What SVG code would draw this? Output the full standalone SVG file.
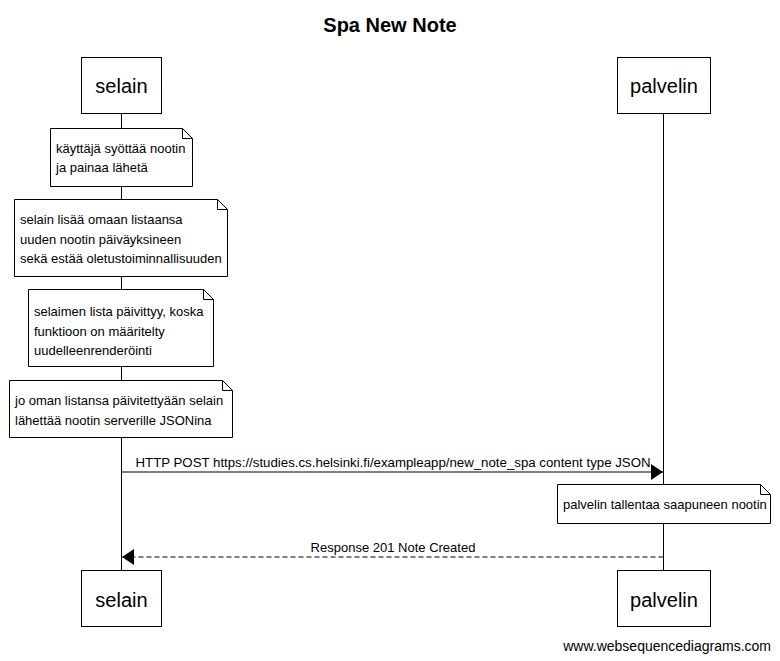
<svg xmlns="http://www.w3.org/2000/svg" width="780" height="661" viewBox="0 0 780 661">
<style>
text{font-family:"Liberation Sans",Arial,sans-serif;fill:#000}
.title{font-size:20px;font-weight:bold;text-anchor:middle}
.part{font-size:20px;text-anchor:middle}
.note{font-size:13px}
.msg{font-size:13px;text-anchor:middle}
.foot{font-size:14px;text-anchor:end}
.box{fill:#fff;stroke:#000;stroke-width:1}
.life{stroke:#000;stroke-width:1;fill:none}
.ln{stroke:#000;stroke-width:1;fill:none}
.dash{stroke-dasharray:5,3}
</style>
<defs>
<marker id="ah" markerWidth="12" markerHeight="16" refX="12" refY="8" orient="auto" markerUnits="userSpaceOnUse">
<path d="M0,0 L12,8 L0,16 Z" fill="#000"/>
</marker>
</defs>
<rect width="780" height="661" fill="#fff"/>
<text class="title" x="390" y="32">Spa New Note</text>
<g id="lifelines">
<line class="life" x1="121.5" y1="114" x2="121.5" y2="570"/>
<line class="life" x1="663.5" y1="114" x2="663.5" y2="570"/>
</g>
<g id="selain">
<rect class="box" x="81.5" y="57.5" width="80" height="56"/>
<text class="part" x="121.5" y="93">selain</text>
<rect class="box" x="81.5" y="570.5" width="80" height="56"/>
<text class="part" x="121.5" y="607">selain</text>
</g>
<g id="palvelin">
<rect class="box" x="617.5" y="57.5" width="93" height="56"/>
<text class="part" x="664" y="93">palvelin</text>
<rect class="box" x="617.5" y="570.5" width="93" height="56"/>
<text class="part" x="664" y="607">palvelin</text>
</g>
<g id="note1">
<path class="box" d="M50.5,128.5 H182.5 L192.5,138.5 V186.5 H50.5 Z M182.5,128.5 V138.5 H192.5"/>
<text class="note" x="56" y="153">käyttäjä syöttää nootin</text>
<text class="note" x="56" y="172">ja painaa lähetä</text>
</g>
<g id="note2">
<path class="box" d="M14.5,199.5 H217.5 L227.5,209.5 V276.5 H14.5 Z M217.5,199.5 V209.5 H227.5"/>
<text class="note" x="20" y="224">selain lisää omaan listaansa</text>
<text class="note" x="20" y="243.5">uuden nootin päiväyksineen</text>
<text class="note" x="20" y="263">sekä estää oletustoiminnallisuuden</text>
</g>
<g id="note3">
<path class="box" d="M28.5,289.5 H203.5 L213.5,299.5 V366.5 H28.5 Z M203.5,289.5 V299.5 H213.5"/>
<text class="note" x="34" y="316">selaimen lista päivittyy, koska</text>
<text class="note" x="34" y="335.5">funktioon on määritelty</text>
<text class="note" x="34" y="355">uudelleenrenderöinti</text>
</g>
<g id="note4">
<path class="box" d="M9.5,380.5 H222.5 L232.5,390.5 V437.5 H9.5 Z M222.5,380.5 V390.5 H232.5"/>
<text class="note" x="15" y="405">jo oman listansa päivitettyään selain</text>
<text class="note" x="15" y="424.5">lähettää nootin serverille JSONina</text>
</g>
<g id="note5">
<path class="box" d="M557.5,484.5 H760.5 L770.5,494.5 V523.5 H557.5 Z M760.5,484.5 V494.5 H770.5"/>
<text class="note" x="563" y="509">palvelin tallentaa saapuneen nootin</text>
</g>
<g id="connectors">
<line class="ln" x1="121.5" y1="472" x2="663" y2="472" marker-end="url(#ah)"/>
<text class="msg" x="393" y="467" style="font-size:13.25px">HTTP POST https://studies.cs.helsinki.fi/exampleapp/new_note_spa content type JSON</text>
<line class="ln dash" x1="663.5" y1="557" x2="122" y2="557" marker-end="url(#ah)"/>
<text class="msg" x="393" y="552">Response 201 Note Created</text>
</g>
<text class="foot" x="771" y="651">www.websequencediagrams.com</text>
</svg>
